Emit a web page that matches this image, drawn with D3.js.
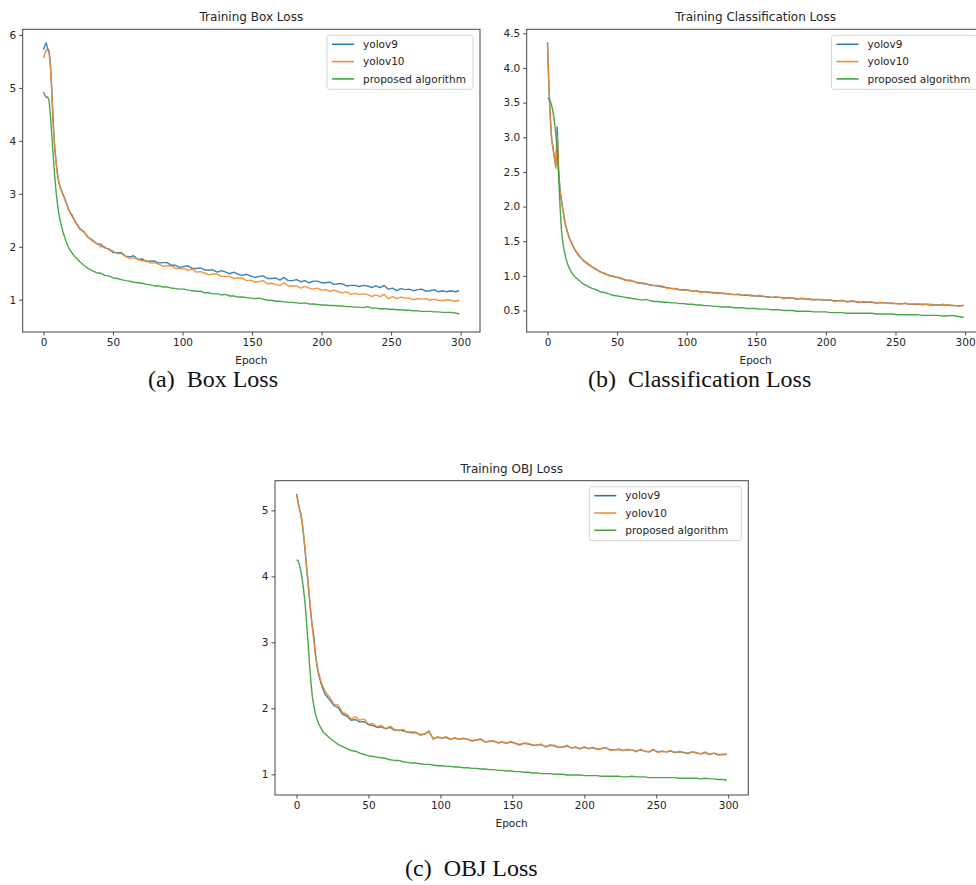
<!DOCTYPE html>
<html>
<head>
<meta charset="utf-8">
<script src="https://cdn.jsdelivr.net/npm/d3@7"></script>
<style>
  body { margin: 0; background: #fff; }
  svg text { font-family: "DejaVu Sans", sans-serif; fill: #262626; }
  svg .caption { font-family: "Liberation Serif", "Times New Roman", serif; fill: #111; }
</style>
</head>
<body>
<script>
// epochs: every epoch up to 20, then every third epoch to 299
const epochs = d3.range(0, 21).concat(d3.range(23, 300, 3));
const seriesNames = ['yolov9', 'yolov10', 'proposed algorithm'];
const seriesColors = ['#2c75a8', '#ef8a2c', '#379e35'];
const xTicks = [0, 50, 100, 150, 200, 250, 300];

// ---- Training Box Loss ----
const boxV9 = [
  5.72, 5.80, 5.85, 5.74, 5.70, 5.45, 4.95, 4.35, 3.92, 3.62, 3.38, 3.22, 3.13, 3.06, 2.99, 2.93, 2.86, 2.79, 2.71, 2.65, 2.62,
  2.47, 2.35, 2.28, 2.18, 2.13, 2.06, 2.05, 1.98, 1.96, 1.89,
  1.89, 1.89, 1.82, 1.81, 1.83, 1.76, 1.77, 1.72, 1.73, 1.73,
  1.69, 1.70, 1.70, 1.65, 1.65, 1.61, 1.63, 1.64, 1.59, 1.59,
  1.60, 1.56, 1.56, 1.56, 1.52, 1.55, 1.52, 1.49, 1.52, 1.48,
  1.46, 1.48, 1.45, 1.42, 1.44, 1.45, 1.40, 1.40, 1.41, 1.37,
  1.42, 1.36, 1.36, 1.38, 1.34, 1.36, 1.32, 1.35, 1.35, 1.32,
  1.32, 1.33, 1.29, 1.30, 1.30, 1.26, 1.27, 1.27, 1.25, 1.27,
  1.26, 1.23, 1.26, 1.23, 1.27, 1.20, 1.22, 1.17, 1.21, 1.19,
  1.20, 1.17, 1.19, 1.20, 1.16, 1.17, 1.19, 1.15, 1.17, 1.15,
  1.17, 1.15, 1.17
];
const boxV10 = [
  5.56, 5.65, 5.72, 5.70, 5.67, 5.40, 4.90, 4.30, 3.90, 3.60, 3.36, 3.21, 3.12, 3.05, 2.98, 2.92, 2.84, 2.78, 2.69, 2.66, 2.60,
  2.46, 2.33, 2.29, 2.19, 2.11, 2.07, 2.00, 2.00, 1.94, 1.92,
  1.87, 1.87, 1.82, 1.78, 1.79, 1.77, 1.73, 1.74, 1.69, 1.70,
  1.67, 1.63, 1.64, 1.64, 1.59, 1.59, 1.59, 1.55, 1.58, 1.52,
  1.53, 1.50, 1.47, 1.49, 1.48, 1.44, 1.44, 1.44, 1.40, 1.41,
  1.41, 1.36, 1.37, 1.33, 1.34, 1.36, 1.30, 1.31, 1.29, 1.27,
  1.32, 1.26, 1.26, 1.26, 1.22, 1.25, 1.22, 1.20, 1.22, 1.18,
  1.19, 1.16, 1.18, 1.15, 1.13, 1.15, 1.10, 1.12, 1.10, 1.11,
  1.10, 1.06, 1.09, 1.06, 1.10, 1.02, 1.06, 1.02, 1.05, 1.03,
  1.03, 1.00, 1.02, 1.01, 1.02, 0.99, 1.01, 0.99, 0.98, 1.00,
  0.99, 0.97, 0.99
];
const boxOurs = [
  4.92, 4.86, 4.82, 4.83, 4.76, 4.48, 4.10, 3.72, 3.35, 3.06, 2.82, 2.63, 2.50, 2.38, 2.28, 2.20, 2.12, 2.05, 1.99, 1.94, 1.90,
  1.80, 1.72, 1.65, 1.59, 1.55, 1.51, 1.50, 1.46, 1.45, 1.41,
  1.40, 1.38, 1.36, 1.35, 1.33, 1.32, 1.31, 1.29, 1.28, 1.26,
  1.26, 1.24, 1.24, 1.22, 1.21, 1.20, 1.20, 1.18, 1.17, 1.16,
  1.16, 1.13, 1.13, 1.11, 1.11, 1.09, 1.10, 1.07, 1.07, 1.05,
  1.05, 1.04, 1.03, 1.02, 1.03, 1.01, 0.99, 0.99, 0.97, 0.97,
  0.96, 0.95, 0.95, 0.94, 0.93, 0.94, 0.92, 0.92, 0.91, 0.90,
  0.90, 0.89, 0.89, 0.88, 0.88, 0.87, 0.87, 0.86, 0.86, 0.85,
  0.87, 0.84, 0.84, 0.83, 0.83, 0.82, 0.82, 0.81, 0.81, 0.80,
  0.80, 0.79, 0.79, 0.78, 0.78, 0.78, 0.77, 0.77, 0.76, 0.76,
  0.76, 0.75, 0.73
];

// ---- Training Classification Loss ----
const clsV9 = [
  4.37, 3.72, 3.28, 2.97, 2.83, 2.70, 2.58, 3.15, 2.52, 2.24, 2.10, 1.96, 1.84, 1.73, 1.66, 1.59, 1.53, 1.49, 1.44, 1.40, 1.36,
  1.28, 1.22, 1.17, 1.13, 1.09, 1.06, 1.03, 1.01, 0.99, 0.98,
  0.96, 0.94, 0.93, 0.92, 0.90, 0.89, 0.88, 0.87, 0.86, 0.85,
  0.84, 0.83, 0.82, 0.81, 0.80, 0.80, 0.79, 0.78, 0.78, 0.77,
  0.77, 0.76, 0.76, 0.75, 0.75, 0.74, 0.74, 0.73, 0.73, 0.72,
  0.72, 0.72, 0.71, 0.71, 0.70, 0.70, 0.69, 0.69, 0.69, 0.68,
  0.68, 0.68, 0.67, 0.67, 0.67, 0.66, 0.66, 0.66, 0.65, 0.65,
  0.65, 0.64, 0.64, 0.64, 0.63, 0.63, 0.63, 0.62, 0.62, 0.62,
  0.62, 0.61, 0.61, 0.61, 0.61, 0.60, 0.60, 0.60, 0.60, 0.59,
  0.59, 0.59, 0.59, 0.59, 0.58, 0.58, 0.58, 0.58, 0.58, 0.57,
  0.57, 0.57, 0.57
];
const clsV10 = [
  4.35, 3.75, 3.30, 2.95, 2.85, 2.72, 2.55, 3.02, 2.48, 2.22, 2.08, 1.95, 1.83, 1.72, 1.65, 1.58, 1.53, 1.49, 1.45, 1.41, 1.37,
  1.29, 1.21, 1.18, 1.13, 1.10, 1.05, 1.04, 1.00, 1.00, 0.98,
  0.97, 0.93, 0.94, 0.92, 0.89, 0.90, 0.89, 0.86, 0.86, 0.86,
  0.85, 0.82, 0.82, 0.82, 0.80, 0.79, 0.80, 0.78, 0.79, 0.76,
  0.77, 0.77, 0.75, 0.76, 0.75, 0.75, 0.73, 0.73, 0.74, 0.72,
  0.73, 0.71, 0.71, 0.72, 0.71, 0.69, 0.69, 0.70, 0.69, 0.67,
  0.69, 0.68, 0.66, 0.68, 0.67, 0.67, 0.65, 0.66, 0.66, 0.65,
  0.66, 0.63, 0.64, 0.65, 0.62, 0.64, 0.63, 0.61, 0.63, 0.62,
  0.63, 0.60, 0.62, 0.61, 0.60, 0.61, 0.60, 0.59, 0.61, 0.59,
  0.59, 0.60, 0.58, 0.59, 0.59, 0.58, 0.57, 0.59, 0.58, 0.58,
  0.57, 0.56, 0.58
];
const clsOurs = [
  3.56, 3.56, 3.52, 3.46, 3.36, 3.22, 3.04, 2.82, 2.45, 2.00, 1.66, 1.48, 1.36, 1.27, 1.20, 1.14, 1.10, 1.06, 1.03, 1.00, 0.98,
  0.93, 0.88, 0.85, 0.82, 0.80, 0.77, 0.76, 0.74, 0.72, 0.71,
  0.70, 0.69, 0.68, 0.67, 0.66, 0.65, 0.66, 0.64, 0.63, 0.63,
  0.62, 0.62, 0.61, 0.61, 0.60, 0.60, 0.59, 0.59, 0.58, 0.58,
  0.57, 0.57, 0.56, 0.56, 0.55, 0.55, 0.55, 0.54, 0.54, 0.54,
  0.53, 0.53, 0.53, 0.52, 0.52, 0.52, 0.51, 0.51, 0.51, 0.50,
  0.50, 0.50, 0.49, 0.49, 0.49, 0.49, 0.48, 0.48, 0.48, 0.48,
  0.47, 0.47, 0.47, 0.47, 0.46, 0.46, 0.46, 0.46, 0.46, 0.46,
  0.46, 0.45, 0.45, 0.45, 0.45, 0.45, 0.44, 0.44, 0.44, 0.44,
  0.44, 0.44, 0.43, 0.43, 0.43, 0.43, 0.43, 0.42, 0.42, 0.43,
  0.42, 0.41, 0.40
];

// ---- Training OBJ Loss ----
const objV9 = [
  5.25, 5.14, 5.02, 4.93, 4.80, 4.60, 4.38, 4.14, 3.90, 3.66, 3.42, 3.24, 3.10, 2.86, 2.68, 2.55, 2.46, 2.38, 2.31, 2.26, 2.21,
  2.13, 2.04, 2.01, 1.91, 1.88, 1.82, 1.83, 1.79, 1.80, 1.75,
  1.74, 1.71, 1.72, 1.69, 1.71, 1.67, 1.67, 1.66, 1.64, 1.63,
  1.63, 1.60, 1.61, 1.65, 1.54, 1.56, 1.55, 1.56, 1.53, 1.55,
  1.53, 1.54, 1.53, 1.51, 1.52, 1.53, 1.49, 1.50, 1.50, 1.48,
  1.49, 1.47, 1.49, 1.47, 1.45, 1.47, 1.46, 1.44, 1.44, 1.45,
  1.42, 1.44, 1.43, 1.41, 1.41, 1.43, 1.40, 1.41, 1.39, 1.41,
  1.39, 1.40, 1.38, 1.39, 1.40, 1.37, 1.37, 1.38, 1.36, 1.37,
  1.37, 1.35, 1.37, 1.35, 1.34, 1.37, 1.34, 1.35, 1.34, 1.35,
  1.33, 1.34, 1.33, 1.32, 1.34, 1.32, 1.31, 1.33, 1.30, 1.32,
  1.30, 1.30, 1.30
];
const objV10 = [
  5.23, 5.13, 5.03, 4.95, 4.82, 4.62, 4.40, 4.15, 3.92, 3.68, 3.44, 3.22, 3.02, 2.82, 2.68, 2.57, 2.49, 2.41, 2.35, 2.30, 2.25,
  2.17, 2.06, 2.05, 1.94, 1.91, 1.84, 1.87, 1.82, 1.84, 1.76,
  1.77, 1.72, 1.74, 1.69, 1.73, 1.68, 1.66, 1.68, 1.64, 1.64,
  1.64, 1.59, 1.61, 1.66, 1.53, 1.57, 1.55, 1.57, 1.53, 1.55,
  1.53, 1.55, 1.53, 1.50, 1.52, 1.54, 1.49, 1.50, 1.51, 1.47,
  1.49, 1.47, 1.50, 1.47, 1.44, 1.47, 1.47, 1.44, 1.44, 1.46,
  1.41, 1.44, 1.44, 1.41, 1.41, 1.44, 1.40, 1.41, 1.38, 1.42,
  1.39, 1.41, 1.38, 1.39, 1.41, 1.36, 1.37, 1.38, 1.36, 1.38,
  1.37, 1.34, 1.38, 1.35, 1.34, 1.38, 1.33, 1.35, 1.34, 1.36,
  1.33, 1.35, 1.33, 1.31, 1.34, 1.33, 1.31, 1.34, 1.30, 1.32,
  1.29, 1.30, 1.31
];
const objOurs = [
  4.25, 4.24, 4.18, 4.08, 3.95, 3.78, 3.58, 3.30, 3.00, 2.68, 2.40, 2.18, 2.04, 1.93, 1.85, 1.79, 1.74, 1.70, 1.66, 1.63, 1.61,
  1.55, 1.50, 1.45, 1.42, 1.39, 1.36, 1.35, 1.32, 1.30, 1.28,
  1.27, 1.26, 1.25, 1.24, 1.22, 1.21, 1.21, 1.19, 1.18, 1.17,
  1.17, 1.16, 1.15, 1.15, 1.14, 1.13, 1.13, 1.12, 1.12, 1.11,
  1.11, 1.10, 1.10, 1.09, 1.09, 1.08, 1.08, 1.07, 1.07, 1.06,
  1.06, 1.05, 1.05, 1.04, 1.04, 1.03, 1.03, 1.02, 1.02, 1.01,
  1.01, 1.01, 1.00, 1.00, 1.00, 0.99, 0.99, 0.99, 0.99, 0.98,
  0.98, 0.98, 0.98, 0.97, 0.97, 0.97, 0.97, 0.97, 0.96, 0.96,
  0.97, 0.96, 0.96, 0.96, 0.95, 0.95, 0.95, 0.95, 0.95, 0.95,
  0.95, 0.94, 0.94, 0.94, 0.94, 0.94, 0.93, 0.94, 0.93, 0.93,
  0.92, 0.92, 0.91
];

const boxTicks = [1, 2, 3, 4, 5, 6];
const clsTicks = [0.5, 1.0, 1.5, 2.0, 2.5, 3.0, 3.5, 4.0, 4.5];
const objTicks = [1, 2, 3, 4, 5];

const panels = [
  { id: 'a', title: 'Training Box Loss', label: '(a)', caption: 'Box Loss',
    series: [boxV9, boxV10, boxOurs], yTicks: boxTicks, yFormat: d3.format('d'), yDomain: [0.39, 6.107],
    left: 22.7, top: 29.3, width: 457.3, height: 302.7, legendW: 146, capX: 148, capY: 387 },
  { id: 'b', title: 'Training Classification Loss', label: '(b)', caption: 'Classification Loss',
    series: [clsV9, clsV10, clsOurs], yTicks: clsTicks, yFormat: d3.format('.1f'), yDomain: [0.19, 4.558],
    left: 526.7, top: 29.3, width: 457.8, height: 302.7, legendW: 146, capX: 588, capY: 387 },
  { id: 'c', title: 'Training OBJ Loss', label: '(c)', caption: 'OBJ Loss',
    series: [objV9, objV10, objOurs], yTicks: objTicks, yFormat: d3.format('d'), yDomain: [0.686, 5.45],
    left: 275, top: 480.7, width: 473.3, height: 314.3, legendW: 152, capX: 405, capY: 876 }
];

const svg = d3.select('body')
  .append('svg')
  .attr('width', 976)
  .attr('height', 885);

panels.forEach(p => {
  const x = d3.scaleLinear()
    .domain([-14.95, 313.95])
    .range([p.left, p.left + p.width]);
  const y = d3.scaleLinear()
    .domain(p.yDomain)
    .range([p.top + p.height, p.top]);

  const g = svg.append('g').attr('class', 'panel-' + p.id);

  svg.append('clipPath').attr('id', 'clip-' + p.id)
    .append('rect')
    .attr('x', p.left).attr('y', p.top)
    .attr('width', p.width).attr('height', p.height);

  const line = d3.line()
    .x(d => x(d[0]))
    .y(d => y(d[1]));

  g.append('g')
    .attr('clip-path', `url(#clip-${p.id})`)
    .selectAll('path')
    .data(p.series)
    .enter()
    .append('path')
    .attr('d', s => line(d3.zip(epochs, s)))
    .attr('fill', 'none')
    .attr('stroke', (s, i) => seriesColors[i])
    .attr('stroke-width', 1.4)
    .attr('stroke-linejoin', 'round')
    .attr('opacity', 0.9);

  const xAxis = d3.axisBottom(x)
    .tickValues(xTicks)
    .tickFormat(d3.format('d'))
    .tickSize(3.5)
    .tickPadding(3);
  const yAxis = d3.axisLeft(y)
    .tickValues(p.yTicks)
    .tickFormat(p.yFormat)
    .tickSize(3.5)
    .tickPadding(3);

  [
    g.append('g').attr('transform', `translate(0, ${p.top + p.height})`).call(xAxis),
    g.append('g').attr('transform', `translate(${p.left}, 0)`).call(yAxis)
  ].forEach(a => {
    a.select('.domain').remove();
    a.attr('font-family', null).attr('font-size', 10.5);
    a.selectAll('line').attr('stroke', '#333').attr('stroke-width', 0.9);
  });

  // axes frame
  g.append('rect')
    .attr('x', p.left).attr('y', p.top)
    .attr('width', p.width).attr('height', p.height)
    .attr('fill', 'none')
    .attr('stroke', '#444')
    .attr('stroke-width', 1);

  g.append('text')
    .attr('x', p.left + p.width / 2)
    .attr('y', p.top - 8)
    .attr('text-anchor', 'middle')
    .attr('font-size', 12)
    .text(p.title);

  g.append('text')
    .attr('x', p.left + p.width / 2)
    .attr('y', p.top + p.height + 32)
    .attr('text-anchor', 'middle')
    .attr('font-size', 10.5)
    .text('Epoch');

  // legend
  const lx = p.left + p.width - 7 - p.legendW, ly = p.top + 6;
  const leg = g.append('g').attr('transform', `translate(${lx}, ${ly})`);
  leg.append('rect')
    .attr('width', p.legendW).attr('height', 54)
    .attr('rx', 2.5)
    .attr('fill', '#fff').attr('fill-opacity', 0.85)
    .attr('stroke', '#d6d6d6');
  const item = leg.selectAll('g.item')
    .data(seriesNames)
    .enter()
    .append('g')
    .attr('class', 'item')
    .attr('transform', (d, i) => `translate(0, ${9 + i * 17.3})`);
  item.append('line')
    .attr('x1', 5).attr('x2', 27)
    .attr('stroke', (d, i) => seriesColors[i])
    .attr('stroke-width', 1.5);
  item.append('text')
    .attr('x', 36).attr('dy', '0.35em')
    .attr('font-size', 10.5)
    .text(d => d);

  // sub-figure caption
  const cap = svg.append('text')
    .attr('class', 'caption')
    .attr('x', p.capX).attr('y', p.capY)
    .attr('font-size', 24);
  cap.append('tspan').text(p.label);
  cap.append('tspan').attr('dx', 12).text(p.caption);
});
</script>
</body>
</html>
